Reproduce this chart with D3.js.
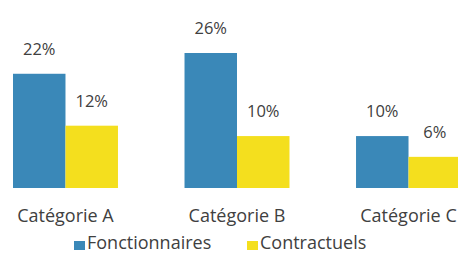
<!DOCTYPE html>
<html><head><meta charset="utf-8">
<script src="https://cdn.jsdelivr.net/npm/d3@7"></script>
<style>html,body{margin:0;padding:0;background:#fff;}text{font-family:"Open Sans",sans-serif;fill:#404040;}</style>
</head><body>
<svg id="c" width="458" height="253"></svg>
<script>
const categories = ["Catégorie A", "Catégorie B", "Catégorie C"];
const seriesNames = ["Fonctionnaires", "Contractuels"];
const fonctionnaires = [22, 26, 10];
const contractuels = [12, 10, 6];
const colors = ["#3a88b8", "#f4df1e"];

const svg = d3.select("#c");
const baseline = 188;
const x0 = d3.scaleBand().domain(categories).range([13, 461]).paddingInner(0.388).paddingOuter(0);
const x1 = d3.scaleBand().domain(seriesNames).range([0, x0.bandwidth()]);
const y = d3.scaleLinear().domain([0, 26]).range([baseline, 53]);

const data = categories.map((c, i) => ({cat: c, vals: [fonctionnaires[i], contractuels[i]]}));
const g = svg.selectAll("g.cat").data(data).join("g")
  .attr("transform", d => `translate(${x0(d.cat)},0)`);
g.selectAll("rect").data(d => d.vals.map((v, j) => ({v, s: seriesNames[j], j}))).join("rect")
  .attr("x", d => x1(d.s)).attr("width", x1.bandwidth())
  .attr("y", d => y(d.v)).attr("height", d => baseline - y(d.v))
  .attr("fill", d => colors[d.j]);
g.selectAll("text.val").data(d => d.vals.map((v, j) => ({v, s: seriesNames[j], j}))).join("text")
  .attr("class", "val")
  .attr("x", d => x1(d.s) + x1.bandwidth() / 2)
  .attr("y", d => y(d.v) - 19)
  .attr("text-anchor", "middle").attr("font-size", 16.5)
  .text(d => d.v + "%");
g.append("text").attr("x", x0.bandwidth() / 2).attr("y", 222)
  .attr("text-anchor", "middle").attr("font-size", 18).text(d => d.cat);

const legX = [74, 247];
const lg = svg.selectAll("g.leg").data(seriesNames).join("g").attr("class", "leg")
  .attr("transform", (d, i) => `translate(${legX[i]},0)`);
lg.append("rect").attr("x", 0).attr("y", 241).attr("width", 11).attr("height", 9)
  .attr("fill", (d, i) => colors[i]);
lg.append("text").attr("x", 13).attr("y", 249).attr("font-size", 18).text(d => d);
</script>
</body></html>
